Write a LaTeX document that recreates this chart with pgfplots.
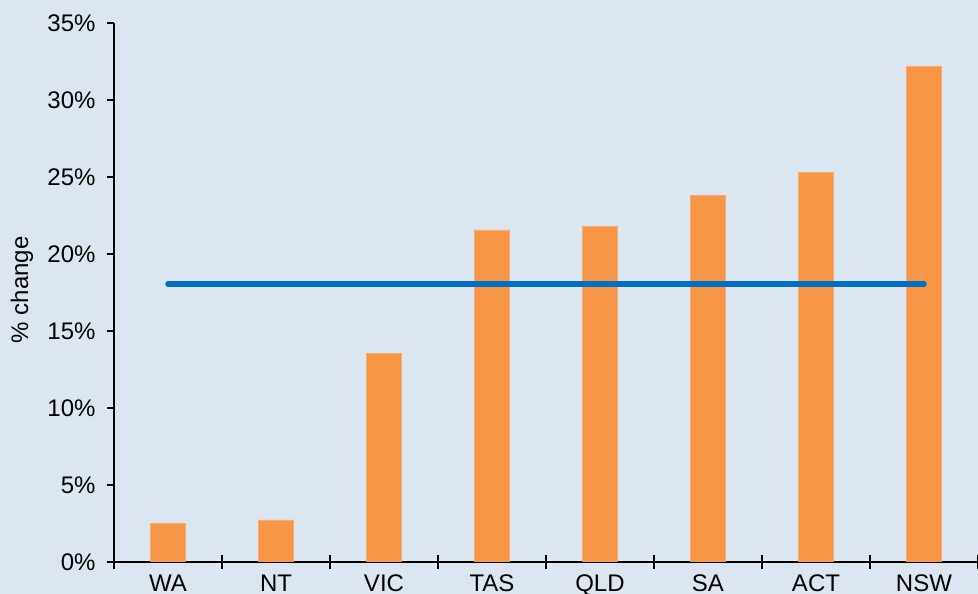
\documentclass[border=0pt]{standalone}
\usepackage{fontspec}
\setmainfont{Liberation Sans}
\usepackage{pgfplots}
\pgfplotsset{compat=1.18}
\definecolor{bg}{HTML}{DCE6F0}
\definecolor{barc}{HTML}{F79646}
\definecolor{linec}{HTML}{0070C0}
\begin{document}
\begin{tikzpicture}
\fill[bg, use as bounding box] (0,0) rectangle (978pt,594pt);
\clip (0,0) rectangle (978pt,594pt);
\begin{axis}[
  at={(114pt,32pt)}, anchor=south west,
  scale only axis, width=864pt, height=539pt,
  xmin=-0.5, xmax=7.5, ymin=0, ymax=35,
  axis x line=bottom, axis y line=left,
  axis line style={-, line width=1.6pt, black},
  ytick={0,5,...,35},
  yticklabel={\pgfmathprintnumber{\tick}\%},
  xtick={0,...,7},
  xticklabels={WA,NT,VIC,TAS,QLD,SA,ACT,NSW},
  minor xtick={-0.5,0.5,...,7.5},
  xtick align=center, ytick align=outside,
  major x tick style={draw=none},
  minor x tick style={line width=1.3pt, black},
  major y tick style={line width=1.3pt, black},
  minor tick length=14pt, major tick length=7pt,
  tick label style={font=\fontsize{24}{28}\selectfont, black},
  yticklabel style={xshift=-8pt},
  xticklabel style={yshift=-6pt},
  /pgf/number format/assume math mode=true,
  ylabel={\% change},
  ylabel style={font=\fontsize{24}{28}\selectfont, at={(axis description cs:-0.1065,0.505)}, rotate=0, anchor=center},
]
\addplot[ybar, bar width=35pt, fill=barc, draw=barc!80!white] coordinates {
  (0,2.53) (1,2.73) (2,13.57) (3,21.56) (4,21.8) (5,23.8) (6,25.3) (7,32.2)};
\addplot[linec, line width=5.5pt, line cap=round] coordinates {(0,18.05) (7,18.05)};
\end{axis}
\end{tikzpicture}
\end{document}
